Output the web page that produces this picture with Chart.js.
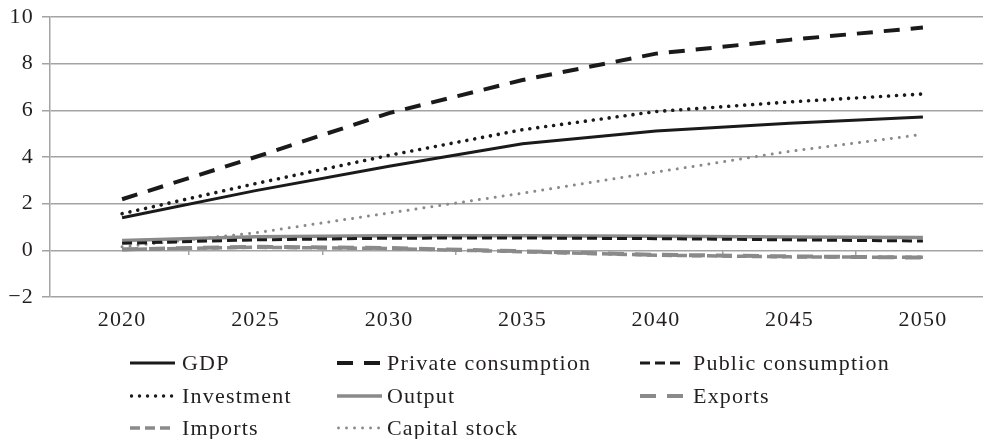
<!DOCTYPE html>
<html><head><meta charset="utf-8">
<script src="https://cdn.jsdelivr.net/npm/chart.js@4.4.1/dist/chart.umd.min.js"></script>
<style>
html,body{margin:0;padding:0;background:#fff;overflow:hidden;}
#wrap{position:relative;width:983px;height:439px;}
#c{position:absolute;left:0;top:0;}
#legend{position:absolute;left:0;top:0;width:983px;height:439px;font-family:"Liberation Serif","Times New Roman",serif;font-size:22px;letter-spacing:1.2px;color:#231f20;}
.item{position:absolute;height:30px;width:320px;}
.item svg{position:absolute;left:0;top:0;}
.item span{position:absolute;white-space:nowrap;line-height:30px;top:0;}
</style></head><body>
<div id="wrap"><canvas id="c" width="983" height="340"></canvas><div id="legend"></div></div>
<script>
// ---- data ----
const years = [2020, 2025, 2030, 2035, 2040, 2045, 2050];
const xTickLabels = ['2020', '2025', '2030', '2035', '2040', '2045', '2050'];
const yTicks = [-2, 0, 2, 4, 6, 8, 10];
const gdp          = [1.40, 2.56, 3.60, 4.57, 5.11, 5.45, 5.71];
const privateCons  = [2.19, 4.00, 5.88, 7.30, 8.43, 9.02, 9.55];
const publicCons   = [0.30, 0.45, 0.52, 0.53, 0.50, 0.45, 0.40];
const investment   = [1.57, 2.86, 4.07, 5.17, 5.95, 6.36, 6.70];
const output       = [0.42, 0.58, 0.63, 0.63, 0.60, 0.57, 0.55];
const exportsS     = [0.04, 0.15, 0.10, -0.04, -0.19, -0.26, -0.31];
const importsS     = [0.04, 0.13, 0.08, -0.06, -0.21, -0.28, -0.30];
const capitalStock = [0.15, 0.75, 1.60, 2.45, 3.35, 4.24, 4.97];
const seriesLabels = ['GDP', 'Private consumption', 'Public consumption', 'Investment', 'Output', 'Exports', 'Imports', 'Capital stock'];

// ---- styles ----
const BLACK = '#1a1a1a', GRAY = '#8a8a8a', GRID = '#a3a3a3', TEXT = '#231f20';
const styles = [
  {color: BLACK, width: 3,   dash: [],        cap: 'butt'},
  {color: BLACK, width: 4,   dash: [16, 11],  cap: 'butt'},
  {color: BLACK, width: 3,   dash: [10, 5],   cap: 'butt'},
  {color: BLACK, width: 3.6, dash: [0.01, 8], cap: 'round'},
  {color: GRAY,  width: 3.5, dash: [],        cap: 'butt'},
  {color: GRAY,  width: 4,   dash: [16, 11],  cap: 'butt'},
  {color: GRAY,  width: 3.5, dash: [10, 5],   cap: 'butt'},
  {color: GRAY,  width: 3,   dash: [0.01, 8], cap: 'round'}
];
const values = [gdp, privateCons, publicCons, investment, output, exportsS, importsS, capitalStock];

const datasets = values.map((arr, i) => ({
  label: seriesLabels[i],
  data: years.map((y, j) => ({x: y, y: arr[j]})),
  borderColor: styles[i].color,
  backgroundColor: styles[i].color,
  borderWidth: styles[i].width,
  borderDash: styles[i].dash,
  borderCapStyle: styles[i].cap,
  pointRadius: 0,
  tension: 0,
  fill: false
}));

const midTicks = years.slice(1).map((y, i) => (y + years[i]) / 2);
const XMIN = 2017.3, XMAX = 2052.25;
const tickFont = {family: '"Liberation Serif", "Times New Roman", serif', size: 22};

const spacingPlugin = {
  id: 'spacing',
  beforeDraw(chart) { chart.ctx.letterSpacing = '1.2px'; }
};

const chart = new Chart(document.getElementById('c'), {
  type: 'line',
  data: {datasets},
  plugins: [spacingPlugin],
  options: {
    responsive: false,
    animation: false,
    layout: {padding: {top: 17, right: 0, left: 0, bottom: 0}},
    plugins: {legend: {display: false}, tooltip: {enabled: false}},
    scales: {
      x: {
        type: 'linear', min: XMIN, max: XMAX,
        position: {y: 0},
        afterBuildTicks: s => { s.ticks = midTicks.map(v => ({value: v})); },
        ticks: {display: false},
        grid: {drawOnChartArea: false, drawTicks: true, tickLength: 5, color: GRID, lineWidth: 1.5},
        border: {display: false}
      },
      x2: {
        type: 'linear', min: XMIN, max: XMAX,
        position: 'bottom',
        afterBuildTicks: s => { s.ticks = years.map(v => ({value: v})); },
        afterFit: s => { s.height = 43; s.paddingLeft = 0; s.paddingRight = 0; },
        ticks: {autoSkip: false, maxRotation: 0, padding: 10, color: TEXT, font: tickFont,
                callback: (v, i) => xTickLabels[i]},
        grid: {display: false, drawTicks: false},
        border: {display: false}
      },
      y: {
        min: -2, max: 10,
        afterBuildTicks: s => { s.ticks = yTicks.map(v => ({value: v})); },
        afterFit: s => { s.width = 50; s.paddingTop = 0; s.paddingBottom = 0; },
        ticks: {padding: 8, color: TEXT, font: tickFont,
                callback: v => v < 0 ? '\u2212' + Math.abs(v) : String(v)},
        grid: {color: GRID, lineWidth: 1.5, tickLength: 8},
        border: {display: true, color: GRID, width: 1.5}
      }
    }
  }
});

// ---- HTML legend in 3 columns ----
const colX = [130, 337, 640];
const textOff = [52, 50, 53];
const rowY = [363, 396, 428];
const legend = document.getElementById('legend');
chart.data.datasets.forEach((ds, i) => {
  const col = i % 3, row = Math.floor(i / 3);
  const st = styles[i];
  const div = document.createElement('div');
  div.className = 'item';
  div.style.left = colX[col] + 'px';
  div.style.top = (rowY[row] - 15) + 'px';
  const dash = st.dash.length ? st.dash.join(' ') : 'none';
  const legW = st.cap === 'round' ? st.width * 0.95 : st.width;
  div.innerHTML = '<svg width="46" height="30"><line x1="' + (st.cap === 'round' ? 1.5 : 0) + '" y1="15" x2="45" y2="15" stroke="' + ds.borderColor +
    '" stroke-width="' + legW + '" stroke-dasharray="' + dash + '" stroke-linecap="' + st.cap + '"/></svg>' +
    '<span style="left:' + textOff[col] + 'px">' + ds.label + '</span>';
  legend.appendChild(div);
});
</script>
</body></html>
